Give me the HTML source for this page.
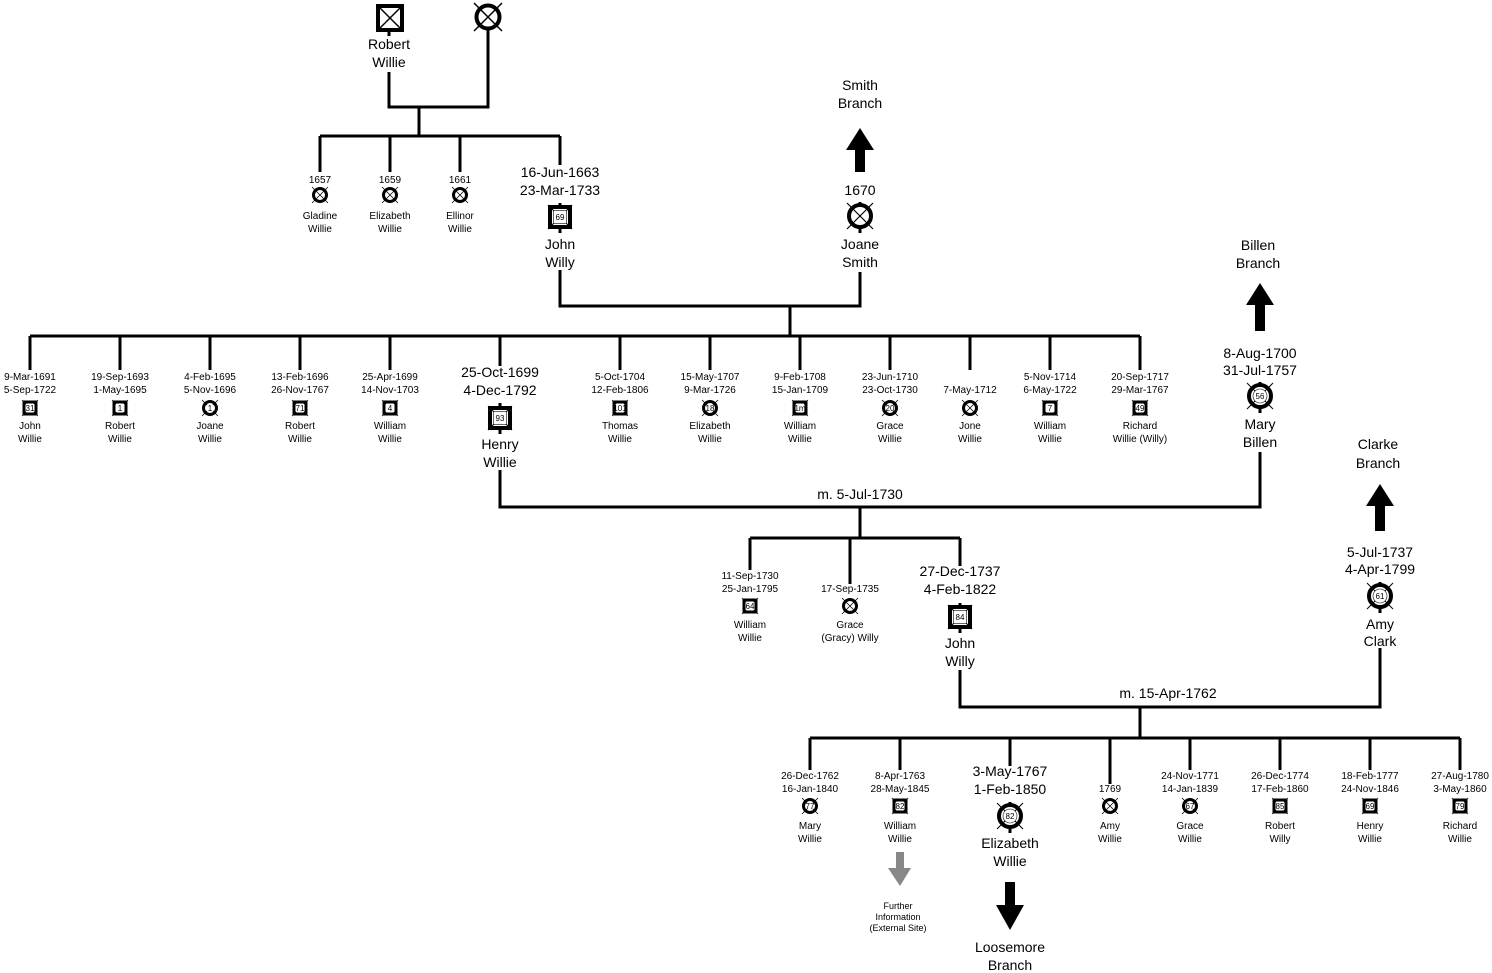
<!DOCTYPE html>
<html><head><meta charset="utf-8"><style>
html,body{margin:0;padding:0;background:#fff}
svg{display:block}
text{font-family:"Liberation Sans",Arial,sans-serif;fill:#000;text-anchor:middle}
.b{font-size:14px}.s{font-size:10px}.n{font-size:8px}.nb{font-size:11px}.f{font-size:9px}
</style></head><body>
<svg width="1492" height="973" viewBox="0 0 1492 973" xmlns="http://www.w3.org/2000/svg">
<defs>
<g id="sqs"><rect x="-6" y="-6" width="12" height="12" fill="#fff" stroke="#000" stroke-width="3"/><path d="M-8 -8L8 8M8 -8L-8 8" stroke="#000" stroke-width="0.8"/><rect x="-4" y="-4" width="8" height="8" fill="#fff"/></g>
<g id="cis"><circle r="6.5" fill="#fff" stroke="#000" stroke-width="3"/><path d="M-8 -8L8 8M8 -8L-8 8" stroke="#000" stroke-width="0.8"/><circle r="4" fill="#fff"/></g>
<g id="cisx"><circle r="6.5" fill="#fff" stroke="#000" stroke-width="3"/><path d="M-8 -8L8 8M8 -8L-8 8" stroke="#000" stroke-width="0.8"/></g>
<g id="sqb"><rect x="-10" y="-10" width="20" height="20" fill="#fff" stroke="#000" stroke-width="4"/><path d="M-12 -12L12 12M12 -12L-12 12" stroke="#000" stroke-width="1"/><rect x="-6.5" y="-6.5" width="13" height="13" fill="#fff" stroke="#000" stroke-width="0.6"/></g>
<g id="cib"><circle r="11" fill="#fff" stroke="#000" stroke-width="4"/><path d="M-13 -13L13 13M13 -13L-13 13" stroke="#000" stroke-width="1"/><circle r="7" fill="#fff" stroke="#000" stroke-width="0.6"/></g>
<g id="cibx"><circle r="11" fill="#fff" stroke="#000" stroke-width="4"/><path d="M-13 -13L13 13M13 -13L-13 13" stroke="#000" stroke-width="1.2"/></g>
</defs>
<g stroke="#000" stroke-width="3" fill="none">
<path d="M389 72V107H488V30M389 30V36M419 107V136M320 136H560M320 136V172M390 136V172M460 136V172M560 136V165"/>
<path d="M560 270V306H860V272M560 228V233M860 228V233M790 306V336M30 336H1140"/>
<path d="M30 336V370M120 336V370M210 336V370M300 336V370M390 336V370M500 336V366M620 336V370M710 336V370M800 336V370M890 336V370M970 336V370M1050 336V370M1140 336V370"/>
<path d="M500 470V507H1260V452M500 429V434M1260 408V413M860 507V538M750 538H960M750 538V570M850 538V584M960 538V566"/>
<path d="M960 670V707H1380V648M960 628V633M1380 608V613M1140 707V738M810 738H1460"/>
<path d="M810 738V770M900 738V770M1010 738V766M1110 738V784M1190 738V770M1280 738V770M1370 738V770M1460 738V770"/>
<path d="M1260 382V388M1380 582V588M860 202V206M500 403V408M560 203V208M960 603V608M1010 802V806M1010 828V833"/>
</g>
<rect x="378" y="6" width="24" height="24" fill="#fff" stroke="#000" stroke-width="4"/><path d="M378 6L402 30M402 6L378 30" stroke="#000" stroke-width="1.5"/>
<g transform="translate(488,17)"><circle r="11.5" fill="#fff" stroke="#000" stroke-width="4"/><path d="M-14 -14L14 14M14 -14L-14 14" stroke="#000" stroke-width="1.5"/></g>
<text class="b" x="389" y="49">Robert</text><text class="b" x="389" y="67">Willie</text>
<text class="s" x="320" y="183">1657</text><use href="#cisx" x="320" y="195"/><text class="s" x="320" y="219">Gladine</text><text class="s" x="320" y="232">Willie</text>
<text class="s" x="390" y="183">1659</text><use href="#cisx" x="390" y="195"/><text class="s" x="390" y="219">Elizabeth</text><text class="s" x="390" y="232">Willie</text>
<text class="s" x="460" y="183">1661</text><use href="#cisx" x="460" y="195"/><text class="s" x="460" y="219">Ellinor</text><text class="s" x="460" y="232">Willie</text>
<text class="b" x="560" y="177">16-Jun-1663</text><text class="b" x="560" y="195">23-Mar-1733</text>
<use href="#sqb" x="560" y="217"/><text class="n" x="560" y="220">69</text>
<text class="b" x="560" y="249">John</text><text class="b" x="560" y="267">Willy</text>
<text class="b" x="860" y="195">1670</text><use href="#cibx" x="860" y="216"/>
<text class="b" x="860" y="249">Joane</text><text class="b" x="860" y="267">Smith</text>
<path d="M846 150L860 128L874 150H865V172H855V150Z" fill="#000"/>
<text class="b" x="860" y="90">Smith</text><text class="b" x="860" y="108">Branch</text>
<text class="s" x="30" y="380">9-Mar-1691</text><text class="s" x="30" y="393">5-Sep-1722</text><use href="#sqs" x="30" y="408"/><text class="n" x="30" y="411">31</text><text class="s" x="30" y="429">John</text><text class="s" x="30" y="442">Willie</text>
<text class="s" x="120" y="380">19-Sep-1693</text><text class="s" x="120" y="393">1-May-1695</text><use href="#sqs" x="120" y="408"/><text class="n" x="120" y="411">1</text><text class="s" x="120" y="429">Robert</text><text class="s" x="120" y="442">Willie</text>
<text class="s" x="210" y="380">4-Feb-1695</text><text class="s" x="210" y="393">5-Nov-1696</text><use href="#cis" x="210" y="408"/><text class="n" x="210" y="411">1</text><text class="s" x="210" y="429">Joane</text><text class="s" x="210" y="442">Willie</text>
<text class="s" x="300" y="380">13-Feb-1696</text><text class="s" x="300" y="393">26-Nov-1767</text><use href="#sqs" x="300" y="408"/><text class="n" x="300" y="411">71</text><text class="s" x="300" y="429">Robert</text><text class="s" x="300" y="442">Willie</text>
<text class="s" x="390" y="380">25-Apr-1699</text><text class="s" x="390" y="393">14-Nov-1703</text><use href="#sqs" x="390" y="408"/><text class="n" x="390" y="411">4</text><text class="s" x="390" y="429">William</text><text class="s" x="390" y="442">Willie</text>
<text class="s" x="620" y="380">5-Oct-1704</text><text class="s" x="620" y="393">12-Feb-1806</text><use href="#sqs" x="620" y="408"/><text class="n" x="620" y="411">101</text><text class="s" x="620" y="429">Thomas</text><text class="s" x="620" y="442">Willie</text>
<text class="s" x="710" y="380">15-May-1707</text><text class="s" x="710" y="393">9-Mar-1726</text><use href="#cis" x="710" y="408"/><text class="n" x="710" y="411">18</text><text class="s" x="710" y="429">Elizabeth</text><text class="s" x="710" y="442">Willie</text>
<text class="s" x="800" y="380">9-Feb-1708</text><text class="s" x="800" y="393">15-Jan-1709</text><use href="#sqs" x="800" y="408"/><text class="n" x="800" y="411">1m</text><text class="s" x="800" y="429">William</text><text class="s" x="800" y="442">Willie</text>
<text class="s" x="890" y="380">23-Jun-1710</text><text class="s" x="890" y="393">23-Oct-1730</text><use href="#cis" x="890" y="408"/><text class="n" x="890" y="411">20</text><text class="s" x="890" y="429">Grace</text><text class="s" x="890" y="442">Willie</text>
<text class="s" x="970" y="393">7-May-1712</text><use href="#cisx" x="970" y="408"/><text class="s" x="970" y="429">Jone</text><text class="s" x="970" y="442">Willie</text>
<text class="s" x="1050" y="380">5-Nov-1714</text><text class="s" x="1050" y="393">6-May-1722</text><use href="#sqs" x="1050" y="408"/><text class="n" x="1050" y="411">7</text><text class="s" x="1050" y="429">William</text><text class="s" x="1050" y="442">Willie</text>
<text class="s" x="1140" y="380">20-Sep-1717</text><text class="s" x="1140" y="393">29-Mar-1767</text><use href="#sqs" x="1140" y="408"/><text class="n" x="1140" y="411">49</text><text class="s" x="1140" y="429">Richard</text><text class="s" x="1140" y="442">Willie (Willy)</text>
<text class="b" x="500" y="377">25-Oct-1699</text><text class="b" x="500" y="395">4-Dec-1792</text>
<use href="#sqb" x="500" y="418"/><text class="n" x="500" y="421">93</text>
<text class="b" x="500" y="449">Henry</text><text class="b" x="500" y="467">Willie</text>
<text class="b" x="1260" y="358">8-Aug-1700</text><text class="b" x="1260" y="375">31-Jul-1757</text>
<use href="#cib" x="1260" y="396"/><text class="n" x="1260" y="399">56</text>
<text class="b" x="1260" y="429">Mary</text><text class="b" x="1260" y="447">Billen</text>
<path d="M1246 305L1260 283L1274 305H1265V331H1255V305Z" fill="#000"/>
<text class="b" x="1258" y="250">Billen</text><text class="b" x="1258" y="268">Branch</text>
<text class="b" x="860" y="499">m. 5-Jul-1730</text>
<text class="s" x="750" y="579">11-Sep-1730</text><text class="s" x="750" y="592">25-Jan-1795</text><use href="#sqs" x="750" y="606"/><text class="n" x="750" y="609">64</text><text class="s" x="750" y="628">William</text><text class="s" x="750" y="641">Willie</text>
<text class="s" x="850" y="592">17-Sep-1735</text><use href="#cisx" x="850" y="606"/><text class="s" x="850" y="628">Grace</text><text class="s" x="850" y="641">(Gracy) Willy</text>
<text class="b" x="960" y="576">27-Dec-1737</text><text class="b" x="960" y="594">4-Feb-1822</text>
<use href="#sqb" x="960" y="617"/><text class="n" x="960" y="620">84</text>
<text class="b" x="960" y="648">John</text><text class="b" x="960" y="666">Willy</text>
<text class="b" x="1380" y="557">5-Jul-1737</text><text class="b" x="1380" y="574">4-Apr-1799</text>
<use href="#cib" x="1380" y="596"/><text class="n" x="1380" y="599">61</text>
<text class="b" x="1380" y="629">Amy</text><text class="b" x="1380" y="646">Clark</text>
<path d="M1366 506L1380 484L1394 506H1385V531H1375V506Z" fill="#000"/>
<text class="b" x="1378" y="449">Clarke</text><text class="b" x="1378" y="468">Branch</text>
<text class="b" x="1168" y="698">m. 15-Apr-1762</text>
<text class="s" x="810" y="779">26-Dec-1762</text><text class="s" x="810" y="792">16-Jan-1840</text><use href="#cis" x="810" y="806"/><text class="n" x="810" y="809">77</text><text class="s" x="810" y="829">Mary</text><text class="s" x="810" y="842">Willie</text>
<text class="s" x="900" y="779">8-Apr-1763</text><text class="s" x="900" y="792">28-May-1845</text><use href="#sqs" x="900" y="806"/><text class="n" x="900" y="809">82</text><text class="s" x="900" y="829">William</text><text class="s" x="900" y="842">Willie</text>
<path d="M896 852H904V868H911L900 886L888 868H896Z" fill="#888"/>
<text class="f" x="898" y="909">Further</text><text class="f" x="898" y="920">Information</text><text class="f" x="898" y="931">(External Site)</text>
<text class="b" x="1010" y="776">3-May-1767</text><text class="b" x="1010" y="794">1-Feb-1850</text>
<use href="#cib" x="1010" y="816"/><text class="n" x="1010" y="819">82</text>
<text class="b" x="1010" y="848">Elizabeth</text><text class="b" x="1010" y="866">Willie</text>
<path d="M1005 882H1015V905H1024L1010 930L996 905H1005Z" fill="#000"/>
<text class="b" x="1010" y="952">Loosemore</text><text class="b" x="1010" y="970">Branch</text>
<text class="s" x="1110" y="792">1769</text><use href="#cisx" x="1110" y="806"/><text class="s" x="1110" y="829">Amy</text><text class="s" x="1110" y="842">Willie</text>
<text class="s" x="1190" y="779">24-Nov-1771</text><text class="s" x="1190" y="792">14-Jan-1839</text><use href="#cis" x="1190" y="806"/><text class="n" x="1190" y="809">67</text><text class="s" x="1190" y="829">Grace</text><text class="s" x="1190" y="842">Willie</text>
<text class="s" x="1280" y="779">26-Dec-1774</text><text class="s" x="1280" y="792">17-Feb-1860</text><use href="#sqs" x="1280" y="806"/><text class="n" x="1280" y="809">85</text><text class="s" x="1280" y="829">Robert</text><text class="s" x="1280" y="842">Willy</text>
<text class="s" x="1370" y="779">18-Feb-1777</text><text class="s" x="1370" y="792">24-Nov-1846</text><use href="#sqs" x="1370" y="806"/><text class="n" x="1370" y="809">69</text><text class="s" x="1370" y="829">Henry</text><text class="s" x="1370" y="842">Willie</text>
<text class="s" x="1460" y="779">27-Aug-1780</text><text class="s" x="1460" y="792">3-May-1860</text><use href="#sqs" x="1460" y="806"/><text class="n" x="1460" y="809">79</text><text class="s" x="1460" y="829">Richard</text><text class="s" x="1460" y="842">Willie</text>
</svg>
</body></html>
